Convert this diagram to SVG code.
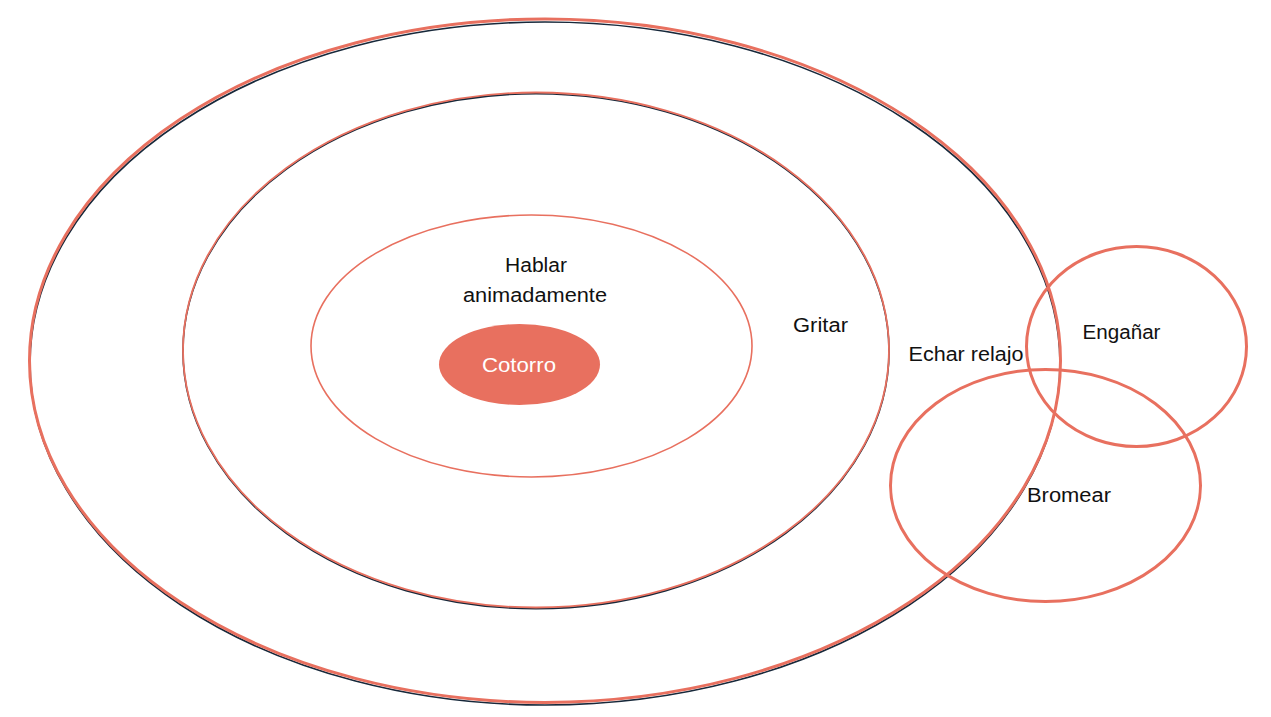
<svg xmlns="http://www.w3.org/2000/svg" width="1271" height="717" viewBox="0 0 1271 717">
<style>
.dark{fill:none;stroke:#17283a;stroke-width:1.6}
.red{fill:none;stroke:#e8705f}
.t{font-family:"Liberation Sans",Arial,sans-serif;font-size:20px;fill:#111}
</style>
<rect width="1271" height="717" fill="#fff"/>
<g id="outer">
<ellipse class="dark" cx="545" cy="363.5" rx="515" ry="341.5"/>
<ellipse class="red" cx="545" cy="360.7" rx="515.5" ry="341.7" stroke-width="3"/>
<text class="t" x="966" y="361" text-anchor="middle" textLength="115" lengthAdjust="spacingAndGlyphs">Echar relajo</text>
</g>
<g id="middle">
<ellipse class="dark" cx="536" cy="351.2" rx="353" ry="257.5"/>
<ellipse class="red" cx="536" cy="350" rx="353" ry="257.5" stroke-width="1.8"/>
<text class="t" x="820.5" y="332" text-anchor="middle" textLength="55" lengthAdjust="spacingAndGlyphs">Gritar</text>
</g>
<g id="inner">
<ellipse class="red" cx="531.5" cy="346" rx="220.5" ry="131" stroke-width="1.6"/>
<text class="t" x="536" y="271.5" text-anchor="middle" textLength="62" lengthAdjust="spacingAndGlyphs">Hablar</text>
<text class="t" x="535" y="301.5" text-anchor="middle" textLength="144" lengthAdjust="spacingAndGlyphs">animadamente</text>
</g>
<g id="cotorro">
<ellipse cx="519.5" cy="364.5" rx="80.5" ry="40.5" fill="#e8705f"/>
<text class="t" x="519" y="372" text-anchor="middle" style="fill:#fff" textLength="74" lengthAdjust="spacingAndGlyphs">Cotorro</text>
</g>
<g id="enganar">
<ellipse class="red" cx="1136.5" cy="346.5" rx="110" ry="100" stroke-width="3"/>
<text class="t" x="1121.5" y="339" text-anchor="middle" textLength="78" lengthAdjust="spacingAndGlyphs">Engañar</text>
</g>
<g id="bromear">
<ellipse class="red" cx="1045.5" cy="485.5" rx="155" ry="116" stroke-width="3"/>
<text class="t" x="1069" y="502" text-anchor="middle" textLength="84" lengthAdjust="spacingAndGlyphs">Bromear</text>
</g>
<g id="connectors"></g>
</svg>
